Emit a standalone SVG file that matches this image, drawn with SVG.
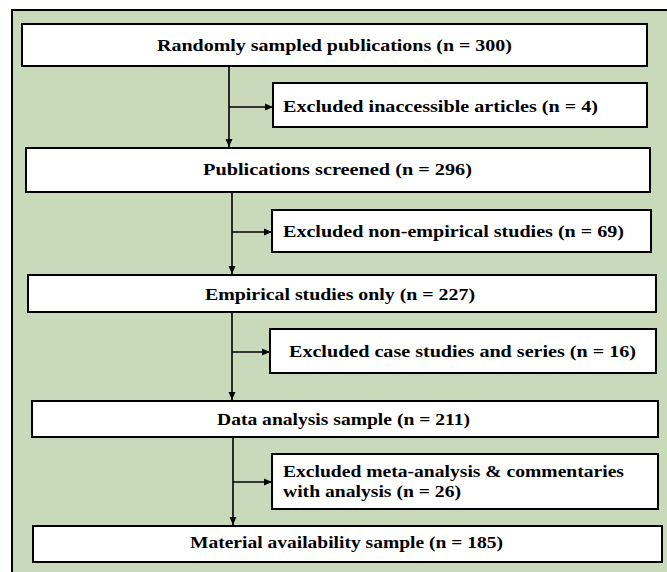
<svg xmlns="http://www.w3.org/2000/svg" width="667" height="572" viewBox="0 0 667 572">
<style>
.box{fill:#ffffff;stroke:#000000;stroke-width:2}
.t{font-family:"Liberation Serif","Times New Roman",serif;font-weight:bold;font-size:17px;fill:#000000}
.c{fill:none;stroke:#000000;stroke-width:1.6}
</style>
<defs>
<marker id="ah" markerWidth="9" markerHeight="9" refX="8" refY="4.5" orient="auto" markerUnits="userSpaceOnUse">
<path d="M0,1 L8,4.5 L0,8 Z" fill="#000000"/>
</marker>
</defs>
<rect x="0" y="0" width="667" height="572" fill="#ffffff"/>
<rect id="frame" x="12" y="10" width="680" height="600" fill="#c9dabb" stroke="#000000" stroke-width="2"/>
<g id="connectors">
<line class="c" x1="229" y1="66" x2="229" y2="147" marker-end="url(#ah)"/>
<line class="c" x1="229" y1="107" x2="273" y2="107" marker-end="url(#ah)"/>
<line class="c" x1="232" y1="192" x2="232" y2="274" marker-end="url(#ah)"/>
<line class="c" x1="232" y1="232" x2="272" y2="232" marker-end="url(#ah)"/>
<line class="c" x1="232" y1="312" x2="232" y2="400" marker-end="url(#ah)"/>
<line class="c" x1="232" y1="352" x2="270" y2="352" marker-end="url(#ah)"/>
<line class="c" x1="233" y1="437" x2="233" y2="525" marker-end="url(#ah)"/>
<line class="c" x1="233" y1="482" x2="272" y2="482" marker-end="url(#ah)"/>
</g>
<g id="n1">
<rect class="box" x="22" y="24" width="625" height="42"/>
<text class="t" x="157" y="51" textLength="355" lengthAdjust="spacingAndGlyphs">Randomly sampled publications (n = 300)</text>
</g>
<g id="x1">
<rect class="box" x="273" y="83" width="374" height="44"/>
<text class="t" x="283" y="112" textLength="315" lengthAdjust="spacingAndGlyphs">Excluded inaccessible articles (n = 4)</text>
</g>
<g id="n2">
<rect class="box" x="26" y="148" width="624" height="44"/>
<text class="t" x="203" y="175" textLength="269" lengthAdjust="spacingAndGlyphs">Publications screened  (n = 296)</text>
</g>
<g id="x2">
<rect class="box" x="272" y="210" width="379" height="42"/>
<text class="t" x="283" y="237" textLength="341" lengthAdjust="spacingAndGlyphs">Excluded non-empirical studies (n = 69)</text>
</g>
<g id="n3">
<rect class="box" x="28" y="275" width="628" height="37"/>
<text class="t" x="205" y="300" textLength="270" lengthAdjust="spacingAndGlyphs">Empirical studies only (n = 227)</text>
</g>
<g id="x3">
<rect class="box" x="270" y="329" width="386" height="44"/>
<text class="t" x="289" y="357" textLength="347" lengthAdjust="spacingAndGlyphs">Excluded case studies and series (n = 16)</text>
</g>
<g id="n4">
<rect class="box" x="32" y="401" width="626" height="36"/>
<text class="t" x="217" y="425" textLength="253" lengthAdjust="spacingAndGlyphs">Data analysis sample (n = 211)</text>
</g>
<g id="x4">
<rect class="box" x="272" y="454" width="386" height="55"/>
<text class="t" x="283" y="477" textLength="341" lengthAdjust="spacingAndGlyphs">Excluded meta-analysis &amp; commentaries</text>
<text class="t" x="283" y="497" textLength="178" lengthAdjust="spacingAndGlyphs">with analysis (n = 26)</text>
</g>
<g id="n5">
<rect class="box" x="33" y="526" width="629" height="36"/>
<text class="t" x="190" y="548" textLength="313" lengthAdjust="spacingAndGlyphs">Material availability sample (n = 185)</text>
</g>
</svg>
